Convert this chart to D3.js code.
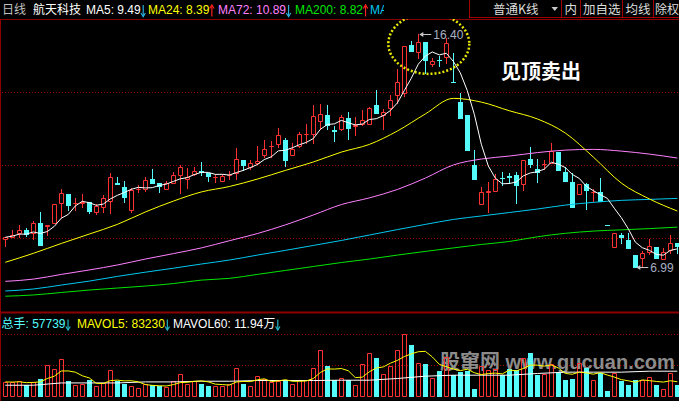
<!DOCTYPE html>
<html lang="zh-CN">
<head>
<meta charset="utf-8">
<title>航天科技 日线</title>
<script src="https://cdn.jsdelivr.net/npm/d3@7"></script>
<style>
html, body { margin: 0; padding: 0; background: #000; overflow: hidden; }
svg { display: block; }
text { font-family: "Liberation Sans", Arial, "Noto Sans CJK SC", sans-serif; font-size: 12px; }
</style>
</head>
<body>
<div id="chart"></div>
<script>
// ---- data ----
var period = "日线";
var stockName = "航天科技";
var note = "见顶卖出";
var toolbar = ["普通K线", "内", "加自选", "均线", "除权"];

var open  = [8.11,8.21,8.35,8.48,8.37,8.75,8.65,8.78,9.59,9.94,
             9.56,9.57,9.60,9.22,9.42,9.67,10.39,10.22,9.29,10.13,
             10.13,10.53,10.37,10.15,10.39,10.70,10.53,10.75,10.87,10.80,
             10.61,10.47,10.70,10.80,11.31,11.02,11.18,11.53,11.88,11.95,
             12.12,11.50,11.88,12.35,12.35,12.90,13.14,12.52,12.55,13.00,
             12.68,12.77,12.75,13.53,13.12,13.40,13.92,14.03,15.96,15.66,
             16.06,15.19,15.35,15.48,14.48,13.67,13.13,11.11,9.52,10.02,
             10.05,10.59,10.65,10.70,10.33,11.34,10.95,11.14,11.20,11.62,
             10.83,10.41,9.93,10.33,10.02,10.02,8.67,7.81,8.27,8.08,
             7.47,7.34,7.61,7.78,7.30,7.68,7.95];
var high  = [8.20,8.48,8.69,8.56,8.85,9.21,8.67,9.53,10.14,9.94,
             9.76,9.93,9.61,9.55,9.90,10.80,10.62,10.46,10.19,10.29,
             10.64,10.94,10.38,10.46,10.84,11.11,10.98,11.02,11.23,10.80,
             10.73,10.75,10.88,11.78,11.31,11.31,11.88,12.12,12.09,12.62,
             12.20,12.01,12.44,12.77,13.53,13.57,13.53,12.68,13.13,13.26,
             13.06,13.33,13.44,14.14,13.36,13.94,14.97,15.92,16.13,16.40,
             16.06,15.42,15.51,16.23,15.62,14.03,13.13,11.71,10.23,10.43,
             10.75,10.84,10.80,10.84,11.30,11.85,11.34,11.31,11.99,11.62,
             11.04,10.77,10.34,10.37,10.14,10.57,8.67,8.35,8.35,8.35,
             7.47,7.65,8.11,7.80,7.77,8.27,7.96];
var low   = [7.85,8.19,8.21,8.24,8.13,7.89,8.29,8.75,9.00,9.29,
             9.29,9.40,9.18,9.14,9.22,9.16,10.33,9.63,9.22,10.03,
             10.06,10.39,10.03,10.15,10.38,9.97,10.17,10.70,10.70,10.47,
             10.43,10.46,10.56,10.53,10.91,10.95,11.15,11.44,11.44,11.85,
             11.08,11.50,11.85,11.99,11.99,12.55,12.55,12.08,12.52,12.15,
             12.32,12.72,12.75,13.22,12.55,13.13,13.63,13.90,15.71,15.42,
             14.81,15.12,15.12,15.24,14.45,13.02,11.71,10.56,9.52,9.22,
             10.05,10.30,10.37,9.56,10.10,11.04,10.43,10.94,11.20,10.91,
             10.47,9.42,9.93,9.34,9.67,9.67,8.67,7.81,7.95,7.77,
             6.99,7.00,7.51,7.35,7.30,7.54,7.54];
var close = [8.19,8.28,8.48,8.32,8.75,7.89,8.67,9.53,9.97,9.51,
             9.59,9.61,9.25,9.45,9.76,10.62,10.33,9.83,10.10,10.15,
             10.50,10.39,10.27,10.37,10.70,11.02,10.64,10.88,10.83,10.68,
             10.62,10.66,10.72,11.34,11.12,11.18,11.27,11.74,11.89,12.32,
             11.31,11.76,12.36,12.36,13.09,13.17,12.74,12.49,13.06,12.62,
             12.72,12.93,13.40,13.22,13.25,13.73,14.46,15.92,15.71,16.09,
             15.35,15.30,15.33,16.05,14.45,13.02,11.71,10.56,10.01,10.05,
             10.56,10.57,10.62,10.30,11.30,11.15,10.81,11.15,11.69,10.91,
             10.47,9.42,10.34,10.10,10.03,9.67,8.67,8.35,8.19,7.77,
             7.00,7.54,7.82,7.36,7.61,7.97,7.85];
var volume = [69800,68400,73000,54400,71600,82300,146000,127400,173900,73000,
              54400,62300,77700,49800,67000,122800,73000,60500,53000,41900,
              59100,54400,51200,48400,73000,105600,62300,73000,59100,49800,
              53000,53000,59100,132100,62300,49800,94900,82300,68400,76300,
              77700,59100,80900,77700,132100,215800,142800,77700,90200,80900,
              57700,152100,201800,178600,105600,142800,217200,291600,240400,155300,
              152100,88400,119500,186000,100900,116300,119500,39100,142800,124200,
              127400,100900,128800,124200,178600,204600,100900,105600,152100,108800,
              77700,82300,155300,132100,80900,111600,27900,108800,73000,54400,
              77700,80900,93000,54400,39100,108800,57739];

// long averages read every 4th day (day 0, 4, 8 ... 96)
var maDays  = d3.range(0, 97, 4);
var ma24    = [7.18,7.54,7.94,8.32,8.71,9.21,9.65,10.02,10.24,10.54,10.89,11.23,11.63,
               11.94,12.48,13.17,13.80,13.65,13.30,12.97,12.40,11.43,10.38,9.74,9.25];
var ma72    = [6.41,6.50,6.69,6.87,7.07,7.31,7.53,7.76,8.05,8.34,8.69,9.09,9.51,
               9.78,10.12,10.58,11.11,11.35,11.47,11.61,11.71,11.74,11.67,11.55,11.39];
var ma120   = [6.02,6.10,6.26,6.42,6.61,6.78,6.94,7.11,7.27,7.47,7.66,7.86,8.06,
               8.28,8.50,8.71,8.91,9.05,9.19,9.33,9.49,9.60,9.68,9.72,9.76];
var ma200   = [5.81,5.86,5.96,6.06,6.14,6.22,6.32,6.46,6.53,6.69,6.85,7.01,7.17,
               7.31,7.47,7.62,7.76,7.90,8.02,8.21,8.35,8.44,8.49,8.54,8.60];
var mavol60 = [54400,54400,65100,65100,65100,69800,69800,73000,73000,76300,76300,76300,77700,
               77700,85600,96300,100900,100900,100900,108800,114900,114900,114900,119400,119400];

// header legends
var maNames  = ["MA5", "MA24", "MA72", "MA200", "MA"];
var maValues = ["9.49", "8.39", "10.89", "8.82", ""];
var maTrend  = ["down", "up", "down", "up", ""];
var volNames  = ["总手", "MAVOL5", "MAVOL60"];
var volValues = ["57739", "83230", "11.94万"];
var volTrend  = ["down", "down", "down"];

// ---- layout ----
var w = 679, h = 401;
var red = "#ff3232", cyan = "#54fcfc", frame = "#8c0000";
var maColors = ["#ffffff", "#ffff00", "#ff80ff", "#00e600", "#00c8f0"];
var maX = [86, 148, 218, 295, 370];
var volColors = ["#54fcfc", "#ffff00", "#ffffff"];
var volX = [1.5, 77, 173];

var n = close.length;
var idx = d3.range(n);

var svg = d3.select("#chart").append("svg")
	.attr("width", w)
	.attr("height", h);

svg.append("rect").attr("width", w).attr("height", h).attr("fill", "#000");

var x  = d3.scaleLinear().domain([0, n - 1]).range([5.3, 677.3]);
var y  = d3.scaleLinear().domain([5.253, 16.965]).range([310, 20]);
var yv = d3.scaleLinear().domain([0, 291500]).range([397, 334]);

function isUp(i) {
	return close[i] > open[i] || (close[i] === open[i] && (i === 0 || close[i] >= close[i - 1]));
}

// frames and dotted grid
svg.append("line").attr("x1", 0.5).attr("x2", 0.5).attr("y1", 0).attr("y2", h)
	.attr("stroke", frame);
svg.append("line").attr("x1", 0).attr("x2", w).attr("y1", 19.5).attr("y2", 19.5)
	.attr("stroke", frame);
svg.append("line").attr("x1", 0).attr("x2", w).attr("y1", 312.5).attr("y2", 312.5)
	.attr("stroke", frame).attr("stroke-width", 2);

var gridY = [1, 2, 3].map(function(k) { return 19.5 + k * 73; })
	.concat([Math.floor(yv(291500)) + 0.5, Math.floor(yv(145750)) + 0.5]);
svg.append("g").selectAll("line")
	.data(gridY)
	.enter()
	.append("line")
	.attr("x1", 2).attr("x2", w)
	.attr("y1", function(d) { return d; })
	.attr("y2", function(d) { return d; })
	.attr("stroke", "#a00000")
	.attr("stroke-dasharray", "1,2");

// candles
var candles = svg.append("g").selectAll("g")
	.data(idx)
	.enter()
	.append("g");

candles.append("line")
	.attr("x1", function(i) { return Math.round(x(i)) + 0.5; })
	.attr("x2", function(i) { return Math.round(x(i)) + 0.5; })
	.attr("y1", function(i) { return Math.round(y(high[i])); })
	.attr("y2", function(i) { return Math.round(y(low[i])) + 1; })
	.attr("stroke", function(i) { return isUp(i) ? red : cyan; });

candles.filter(function(i) { return isUp(i); })
	.append("path")
	.attr("d", function(i) {
		var c = Math.round(x(i));
		var t = Math.round(y(Math.max(open[i], close[i])));
		var b = Math.round(y(Math.min(open[i], close[i])));
		return "M" + (c - 1.5) + "," + (t + 0.5) + "H" + (c + 2.5) + "V" + (b + 0.5) + "H" + (c - 1.5) + "Z";
	})
	.attr("fill", "#000")
	.attr("stroke", red);

candles.filter(function(i) { return !isUp(i); })
	.append("rect")
	.attr("x", function(i) { return Math.round(x(i)) - 2; })
	.attr("y", function(i) { return Math.round(y(Math.max(open[i], close[i]))); })
	.attr("width", 5)
	.attr("height", function(i) {
		return Math.round(y(Math.min(open[i], close[i]))) - Math.round(y(Math.max(open[i], close[i]))) + 1;
	})
	.attr("fill", cyan);

// moving averages
var ma5 = idx.map(function(i) { return d3.mean(close.slice(Math.max(0, i - 4), i + 1)); });
var mavol5 = idx.map(function(i) { return d3.mean(volume.slice(Math.max(0, i - 4), i + 1)); });

var lineDaily = d3.line()
	.x(function(d, i) { return x(i); })
	.y(function(d) { return y(d); });
var lineSampled = d3.line()
	.x(function(d, k) { return x(maDays[k]); })
	.y(function(d) { return y(d); })
	.curve(d3.curveMonotoneX);

[[ma200, maColors[3]], [ma120, maColors[4]], [ma72, maColors[2]], [ma24, maColors[1]]].forEach(function(s) {
	svg.append("path").attr("d", lineSampled(s[0]))
		.attr("fill", "none").attr("stroke", s[1]);
});
svg.append("path").attr("d", lineDaily(ma5))
	.attr("fill", "none").attr("stroke", maColors[0]);

// high / low markers
var iMax = d3.maxIndex(high), iMin = d3.minIndex(low);
[[iMax, high[iMax]], [iMin, low[iMin]]].forEach(function(m) {
	var px = x(m[0]), py = Math.round(y(m[1])) + 0.5;
	svg.append("line").attr("x1", px + 3).attr("x2", px + 13).attr("y1", py).attr("y2", py)
		.attr("stroke", "#c8c8c8");
	svg.append("path")
		.attr("d", "M" + (px + 1) + "," + py + "L" + (px + 5) + "," + (py - 2.5) + "L" + (px + 5) + "," + (py + 2.5) + "Z")
		.attr("fill", "#c8c8c8");
	svg.append("text").attr("x", px + 15).attr("y", py + 4.5)
		.attr("fill", "#a8b0c4")
		.text(m[1].toFixed(2));
});

// dotted ring around the top
svg.append("ellipse")
	.attr("cx", x(iMax) + 10.5)
	.attr("cy", y(high[iMax]) + 9.7)
	.attr("rx", 40.5)
	.attr("ry", 30.2)
	.attr("fill", "none")
	.attr("stroke", "#e8e800")
	.attr("stroke-width", 2.5)
	.attr("stroke-dasharray", "2,2");

svg.append("text")
	.attr("x", 501).attr("y", 79)
	.attr("fill", "#fff")
	.style("font-family", "'Noto Sans CJK SC', sans-serif")
	.style("font-size", "20px")
	.style("font-weight", "bold")
	.text(note);

// watermark sits behind the volume bars
svg.append("text")
	.attr("x", 440).attr("y", 368.5)
	.attr("fill", "#8c8c8c")
	.style("font-size", "20px")
	.style("font-weight", "bold")
	.text("股窜网 www.gucuan.com");

// volume bars
var bars = svg.append("g").selectAll("g")
	.data(idx)
	.enter()
	.append("g");

bars.filter(function(i) { return isUp(i); })
	.append("path")
	.attr("d", function(i) {
		var c = Math.round(x(i)), t = Math.round(yv(volume[i]));
		return "M" + (c - 1.5) + "," + (t + 0.5) + "H" + (c + 2.5) + "V" + (yv(0) - 0.5) + "H" + (c - 1.5) + "Z";
	})
	.attr("fill", "none")
	.attr("stroke", red);

bars.filter(function(i) { return !isUp(i); })
	.append("rect")
	.attr("x", function(i) { return Math.round(x(i)) - 2; })
	.attr("y", function(i) { return Math.round(yv(volume[i])); })
	.attr("width", 5)
	.attr("height", function(i) { return yv(0) - Math.round(yv(volume[i])); })
	.attr("fill", cyan);

svg.append("path")
	.attr("d", d3.line()
		.x(function(d, k) { return x(maDays[k]); })
		.y(function(d) { return yv(d); })(mavol60))
	.attr("fill", "none").attr("stroke", "#fff");
svg.append("path")
	.attr("d", d3.line()
		.x(function(d, i) { return x(i); })
		.y(function(d) { return yv(d); })(mavol5))
	.attr("fill", "none").attr("stroke", "#ffff00");

// header
svg.append("rect").attr("width", w).attr("height", 19).attr("fill", "#000");
svg.append("text").attr("x", 2).attr("y", 14).attr("fill", "#c0c0c0")
	.style("font-family", "'Noto Sans CJK SC', sans-serif").text(period);
svg.append("text").attr("x", 33).attr("y", 14).attr("fill", "#fff")
	.style("font-family", "'Noto Sans CJK SC', sans-serif").text(stockName);

function arrow(g, ax, top, bottom, dir, color) {
	var tip = dir === "up" ? top : bottom;
	var back = dir === "up" ? top + 3.5 : bottom - 3.5;
	g.append("line").attr("x1", ax).attr("x2", ax).attr("y1", top).attr("y2", bottom)
		.attr("stroke", color).attr("stroke-width", 1.2);
	g.append("path").attr("d", "M" + (ax - 2.2) + "," + back + "L" + ax + "," + tip + "L" + (ax + 2.2) + "," + back)
		.attr("fill", "none").attr("stroke", color).attr("stroke-width", 1.2);
}

svg.append("clipPath").attr("id", "hdr").append("rect").attr("width", 384).attr("height", 19);
var hdr = svg.append("g").attr("clip-path", "url(#hdr)");
maNames.forEach(function(name, k) {
	var t = hdr.append("text").attr("x", maX[k]).attr("y", 13.5).attr("fill", maColors[k])
		.text(maValues[k] ? name + ": " + maValues[k] : name);
	if (maTrend[k]) {
		var len = t.node().getComputedTextLength();
		arrow(hdr, maX[k] + len + 2.5, 5, 16.5, maTrend[k], maTrend[k] === "up" ? "#ff2020" : "#2ab0e0");
	}
});

// toolbar
var tb = svg.append("g");
var tbEdges = [469.5, 561.5, 580.5, 622.5, 653.5];
tb.append("rect").attr("x", 469.5).attr("y", -1).attr("width", 212).attr("height", 18.5)
	.attr("fill", "#000").attr("stroke", "#a00000");
tbEdges.slice(1).forEach(function(ex) {
	tb.append("line").attr("x1", ex).attr("x2", ex).attr("y1", 0).attr("y2", 17.5).attr("stroke", "#a00000");
});
var tbTextX = [493, 564.5, 583, 625.5, 655];
toolbar.forEach(function(label, k) {
	tb.append("text").attr("x", tbTextX[k]).attr("y", 14).attr("fill", "#dcdcdc")
		.style("font-family", "'Noto Sans CJK SC', sans-serif")
		.style("font-size", k === 4 ? "12px" : "12.5px")
		.text(label);
});
tb.append("path").attr("d", "M551.5,7H558L554.75,11Z").attr("fill", "#c8c8c8");

// volume legend
volNames.forEach(function(name, k) {
	var t = svg.append("text").attr("x", volX[k]).attr("y", 328).attr("fill", volColors[k])
		.text(name + ": " + volValues[k]);
	var len = t.node().getComputedTextLength();
	arrow(svg, volX[k] + len + 2.5, 319.5, 330, volTrend[k], "#20b4c0");
});
</script>
</body>
</html>
